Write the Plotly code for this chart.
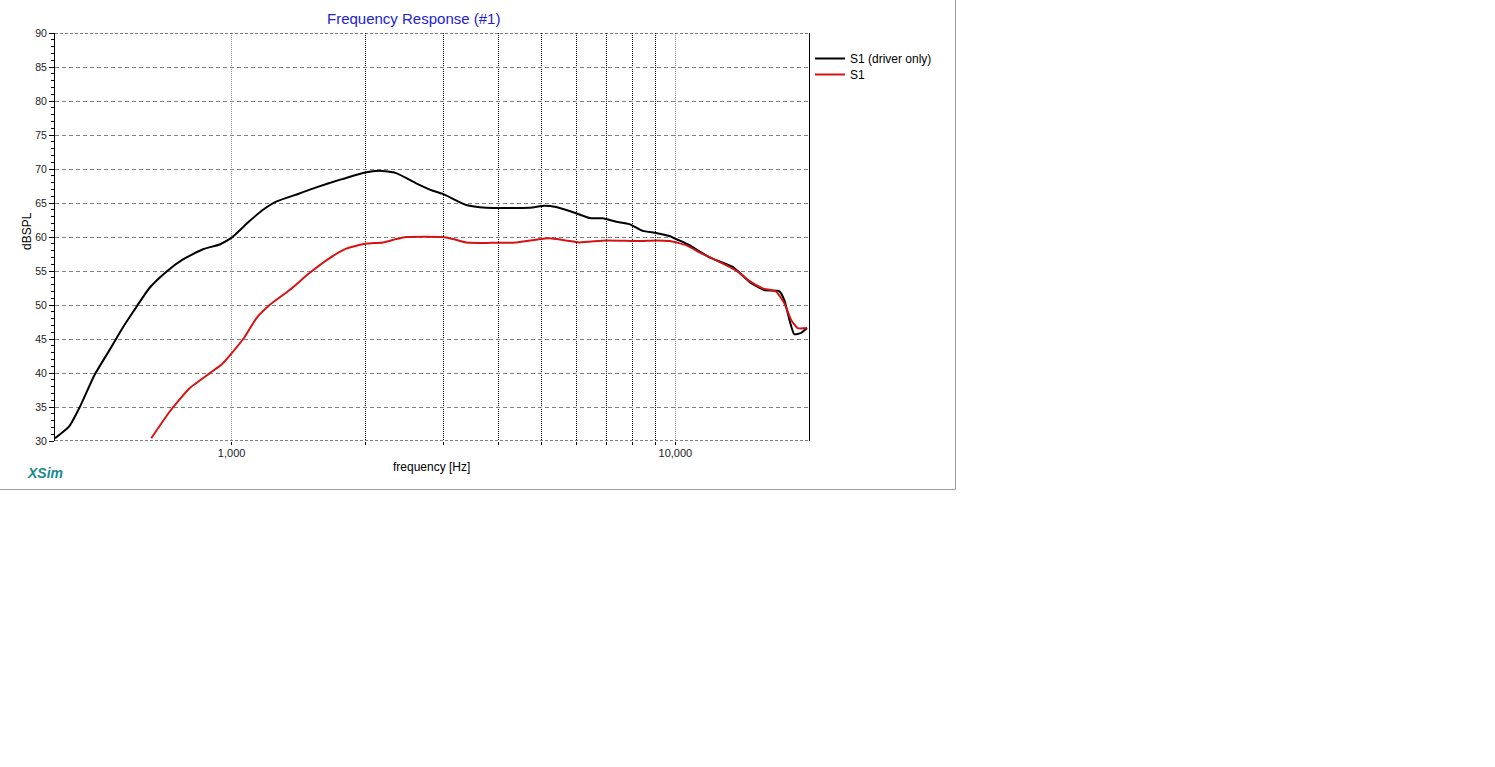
import math
import plotly.graph_objects as go

# ---- data ----
freq_driver = [400, 430, 455, 491, 531, 564, 600, 653, 713, 777, 862, 940, 1000,
               1096, 1177, 1260, 1422, 1552, 1750, 2000, 2154, 2349, 2606, 2842,
               3000, 3378, 3747, 4690, 5070, 5384, 5970, 6398, 6860, 7356, 7871,
               8440, 9047, 9694, 10110, 10750, 11930, 13460, 14810, 15870, 17140,
               17600, 18070, 18530, 19200, 19800]
spl_driver = [30.4, 32.1, 35.0, 39.7, 43.4, 46.3, 49.0, 52.5, 54.9, 56.7, 58.2, 58.9, 59.9,
              62.3, 64.0, 65.2, 66.4, 67.3, 68.4, 69.5, 69.75, 69.4, 67.9, 66.8,
              66.3, 64.7, 64.3, 64.3, 64.6, 64.4, 63.5, 62.8, 62.75, 62.25, 61.9,
              60.9, 60.6, 60.15, 59.6, 58.8, 57.0, 55.6, 53.2, 52.2, 52.05,
              50.7, 47.8, 45.7, 45.9, 46.6]

freq_system = [659, 725, 804, 892, 948, 1000, 1070, 1137, 1218, 1351, 1498, 1663, 1813,
               2000, 2193, 2349, 2475, 2990, 3154, 3378, 4375, 4849, 5193, 5663, 6071,
               6980, 8272, 9047, 9694, 10180, 10560, 11450, 12520, 13700, 14700, 15730,
               16850, 17600, 18230, 18860, 19800]
spl_system = [30.4, 34.3, 37.75, 39.95, 41.2, 42.9, 45.3, 48.05, 50.0, 52.2, 54.7, 56.9, 58.3,
              59.0, 59.2, 59.7, 60.0, 60.0, 59.7, 59.2, 59.2, 59.6, 59.8, 59.5, 59.2,
              59.5, 59.4, 59.5, 59.4, 59.1, 58.8, 57.6, 56.4, 55.1, 53.5, 52.45,
              52.0, 50.25, 47.8, 46.6, 46.6]

series_names = ["S1 (driver only)", "S1"]
series_colors = ["#000000", "#d41414"]

y_ticks = list(range(30, 95, 5))
x_major_ticks = [1000, 10000]
x_major_labels = ["1,000", "10,000"]
x_minor_ticks = [2000, 3000, 4000, 5000, 6000, 7000, 8000, 9000]
x_min, x_max = 400, 20000
y_min, y_max = 30, 90

# ---- layout geometry (pixels) ----
W, H = 1495, 767
L, R, T, B = 55, 809, 33, 441
PW, PH = R - L, B - T


def px(xp):
    return (xp - L) / PW


def py(yp):
    return (B - yp) / PH


fig = go.Figure()
series = [(freq_driver, spl_driver, series_names[0], series_colors[0], "legend"),
          (freq_system, spl_system, series_names[1], series_colors[1], "legend2")]
for fx, fy, nm, col, lg in series:
    fig.add_trace(go.Scatter(
        x=fx, y=fy, mode="lines", name=nm, legend=lg,
        line=dict(color=col, width=2, shape="spline", smoothing=0.5),
        cliponaxis=True,
    ))

legend_style = dict(xanchor="left", yanchor="top",
                    font=dict(size=12, color="black"), bgcolor="rgba(0,0,0,0)",
                    borderwidth=0, tracegroupgap=0, itemwidth=30)

fig.update_layout(
    width=W, height=H,
    margin=dict(l=L, r=W - R, t=T, b=H - B, pad=0),
    paper_bgcolor="white", plot_bgcolor="white",
    font=dict(family="Liberation Sans, Arial, sans-serif", size=11, color="#222222"),
    showlegend=True,
    legend=dict(x=px(810), y=py(44), **legend_style),
    legend2=dict(x=px(810), y=py(60), **legend_style),
    xaxis=dict(
        type="log", range=[math.log10(x_min), math.log10(x_max)],
        tickvals=x_major_ticks, ticktext=x_major_labels,
        ticks="outside", ticklen=3, tickcolor="black", ticklabelstandoff=-1,
        showgrid=True, gridcolor="#909090", griddash="1px,1px", gridwidth=1,
        showline=False, zeroline=False,
        minor=dict(tickvals=x_minor_ticks, ticks="outside", ticklen=3, tickcolor="black",
                   showgrid=True, gridcolor="black", griddash="1px,1px", gridwidth=1),
        tickfont=dict(size=11, color="#222222"),
    ),
    yaxis=dict(
        range=[y_min, y_max], tickvals=y_ticks,
        ticks="outside", ticklen=5, tickcolor="black",
        showgrid=True, gridcolor="#808080", griddash="4px,3px", gridwidth=1,
        showline=True, linecolor="black", linewidth=1, mirror=True, zeroline=False,
        minor=dict(dtick=1, ticks="outside", ticklen=3, tickcolor="black", showgrid=False),
        tickfont=dict(size=10.5, color="#222222"),
    ),
)

# top and bottom frame lines (dashed black)
for yv in (y_min, y_max):
    fig.add_shape(type="line", xref="paper", yref="y", x0=0, x1=1, y0=yv, y1=yv,
                  line=dict(color="black", width=1, dash="3px,2px"), layer="above")

# outer gray box of the chart panel
fig.add_shape(type="line", xref="paper", yref="paper", x0=px(955.5), x1=px(955.5),
              y0=py(0), y1=py(489.5), line=dict(color="#a0a0a0", width=1))
fig.add_shape(type="line", xref="paper", yref="paper", x0=px(0), x1=px(955.5),
              y0=py(489.5), y1=py(489.5), line=dict(color="#a0a0a0", width=1))

# title, axis titles and logo
fig.add_annotation(text="Frequency Response (#1)", xref="paper", yref="paper",
                   x=px(413), y=py(19), showarrow=False, xanchor="center", yanchor="middle",
                   font=dict(size=15, color="#2121d6"))
fig.add_annotation(text="frequency [Hz]", xref="paper", yref="paper",
                   x=px(431), y=py(467), showarrow=False, xanchor="center", yanchor="middle",
                   font=dict(size=12, color="black"))
fig.add_annotation(text="dBSPL", xref="paper", yref="paper", textangle=-90,
                   x=px(27), y=py(231), showarrow=False, xanchor="center", yanchor="middle",
                   font=dict(size=12, color="black"))
fig.add_annotation(text="<b><i>XSim</i></b>", xref="paper", yref="paper",
                   x=px(25), y=py(473), showarrow=False, xanchor="left", yanchor="middle",
                   font=dict(size=14, color="#1a8c8c"))

fig.write_html("out.html", config={"displayModeBar": False},
               post_script="document.body.style.margin='0';")
